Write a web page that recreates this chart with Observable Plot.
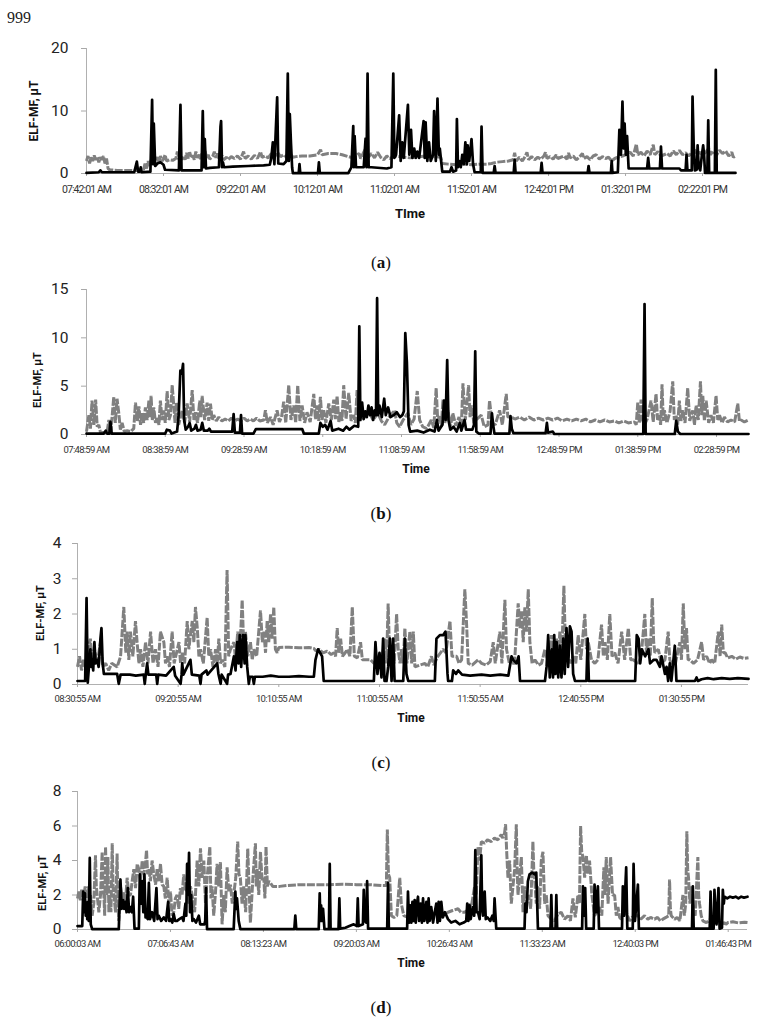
<!DOCTYPE html>
<html><head><meta charset="utf-8">
<script src="https://cdn.jsdelivr.net/npm/d3@7"></script>
<script src="https://cdn.jsdelivr.net/npm/@observablehq/plot@0.6"></script>
<style>
html,body{margin:0;padding:0;background:#fff;overflow:hidden;}
#fig{position:relative;width:762px;height:1020px;background:#fff;overflow:hidden;font-family:Roboto,"Open Sans",sans-serif;}
.pg{position:absolute;left:7px;top:9.5px;font-size:16px;line-height:1;font-family:"Liberation Serif",serif;color:#222;}
.cap{position:absolute;font-size:17px;line-height:1;font-family:"Liberation Serif",serif;color:#111;transform:translate(-50%,-50%);white-space:nowrap;}
.ytitle{position:absolute;font-weight:bold;white-space:nowrap;line-height:1;color:#111;transform:translate(-50%,-50%) rotate(-90deg);}
.xtitle{position:absolute;font-weight:bold;white-space:nowrap;line-height:1;color:#111;transform:translate(-50%,-50%);}
.panel{position:absolute;left:0;}
.pa g[aria-label="x-axis tick label"] text{letter-spacing:-0.9px;}
.pb g[aria-label="x-axis tick label"] text{letter-spacing:-0.7px;}
</style></head>
<body><div id="fig"></div>
<script>
// ---------------- Panel (a) ----------------
const aTimeLabels = ["07:42:01 AM","08:32:01 AM","09:22:01 AM","10:12:01 AM","11:02:01 AM","11:52:01 AM","12:42:01 PM","01:32:01 PM","02:22:01 PM"];
const aEnd = "02:43:25 PM";
const aYTicks = [0,10,20];
const aBlack = [[0,0.1],[8,0.2],[9,0.5],[10,0.2],[31,0.2],[32.7,1.9],[33.5,0.3],[34.7,0.3],[35.2,1],[35.8,0.2],[41.5,0.3],[42.6,11.8],[43.2,1.5],[43.7,8],[44.6,1.2],[46,1.6],[48,1.8],[50,1.4],[51,0.6],[60,0.5],[61,11],[61.7,0.5],[74.7,0.5],[75.5,10],[76.2,1],[76.8,5.5],[77.6,0.8],[80,0.9],[86,1],[87,7.5],[87.4,8.4],[88,1],[88.6,1.8],[89.3,1],[95,1.1],[105,1.2],[115,1.3],[119,1.4],[120,2.5],[121,5],[122,1.5],[123.8,12.2],[124.5,1.6],[128,1.5],[129.8,2],[130.7,16],[131.4,2],[132,9.5],[132.8,4.7],[133.5,1],[134,0.05],[137.8,0.05],[138.3,1.5],[138.8,0.05],[150.3,0.05],[150.9,1.8],[151.5,0.05],[170,0.05],[172,1],[173.2,7.6],[173.6,1],[174.1,6],[175,1],[180,1],[181.2,5.6],[181.8,1],[182.5,16],[183.2,1],[185,1],[195,0.8],[198,1],[199.2,16],[199.9,2.5],[201,3],[203,9.3],[204,2],[205,5],[206,2.5],[208.7,11],[209.6,3],[210.7,7],[211.6,2.5],[212.8,4],[213.8,2.5],[214.8,3.5],[216,2.5],[218.9,8.4],[219.6,2.5],[220.2,8.2],[221.3,2],[222.4,5],[223.5,2],[225,3],[225.7,10],[226.8,2],[227.9,12],[228.8,3],[229.4,4],[231,0.3],[236,0.3],[237,1],[238,0.3],[240,0.5],[240.5,8.7],[241.2,1],[242,2],[243,1],[244,3],[245,1.5],[246,5],[247,1.5],[247.5,4.5],[248.5,2],[250,5.5],[251,1.5],[252,0.2],[256,0.2],[256.5,7.5],[257.2,0.1],[264.4,0.1],[265,1.2],[265.6,0.1],[277.4,0.1],[278,2.2],[278.6,0.1],[294.9,0.1],[295.5,1.7],[296.1,0.1],[325.4,0.1],[326,1.2],[326.6,0.1],[340.5,0.1],[341,2],[341.5,0.1],[345,0.2],[346,7],[347,3],[348,11.5],[348.8,4],[349.4,8],[350.2,3],[351,6],[352,0.8],[360,0.8],[364,0.8],[364.7,2.5],[365.4,0.8],[372.3,0.8],[373,4.3],[373.7,0.8],[385,0.8],[386,0.5],[389,0.5],[389.6,3],[390.2,0.5],[393,0.5],[393.5,12.3],[394.2,5],[395,0.5],[396.2,0.6],[396.8,4.5],[397.5,1],[398.5,0.5],[399.6,3],[400.4,4.5],[401,3],[401.6,0.1],[403.1,0.1],[403.7,8.5],[404.3,0.1],[408,0.1],[408.6,16.6],[409.2,0.1],[421.4,0.1]];
const aGray = [[0,2.0],[1,2.8],[2,1.6],[3,2.6],[4,2.0],[5,2.9],[6,2.2],[7,2.7],[8,1.8],[9,2.6],[10,2.2],[11,2.8],[12,1.6],[13,2.4],[14,0.8],[15,0.6],[20,0.5],[25,0.5],[30,0.5],[35,0.5],[37,0.6],[38,1.6],[39,0.8],[40,2.0],[41,1.2],[42,2.2],[44,1.8],[46,2.6],[47,1.8],[48,2.8],[49,2.0],[50,2.3],[51,3.0],[52,2.0],[54,2.2],[56,2.1],[58,2.4],[59,3.5],[60,2.2],[62,2.3],[63,2.8],[64,2.2],[65,3.3],[66,2.4],[67,3.4],[68,2.5],[69,2.9],[70,2.2],[71,3.5],[72,2.5],[73,3.0],[74,2.3],[75,3.2],[76,2.5],[77,3.6],[78,2.5],[79,3.0],[80,2.3],[82,2.8],[83,3.5],[84,2.5],[85,3.2],[86,2.4],[88,2.9],[89,2.2],[91,2.6],[92,2.2],[94,2.7],[96,2.4],[98,2.8],[100,2.3],[102,3.5],[103,2.4],[105,2.8],[107,2.3],[109,2.9],[111,2.4],[113,3.5],[114,2.6],[116,2.8],[118,2.5],[120,3.2],[122,2.6],[124,3.4],[126,2.7],[128,3.0],[130,2.6],[132,3.2],[134,2.6],[136,2.7],[140,2.8],[145,2.8],[150,3.0],[152,3.8],[153,3.0],[157,3.2],[162,3.2],[166,3.0],[170,2.7],[173,2.5],[175,2.8],[177,3.2],[178,2.4],[180,3.4],[182,4.3],[183,2.6],[185,3.2],[187,2.5],[189,3.4],[191,2.6],[193,2.2],[195,2.8],[197,2.4],[200,2.8],[210,2.5],[220,2.8],[230,2.6],[231,1.6],[235,1.5],[240,1.4],[245,1.5],[250,1.4],[255,1.5],[260,1.5],[263,1.6],[266,1.8],[270,1.9],[274,2.0],[277,2.2],[278,3.3],[279,2.0],[281,2.6],[283,2.0],[285,2.8],[286,3.4],[287,2.2],[289,2.7],[291,2.2],[293,2.6],[295,2.3],[297,2.8],[298,3.4],[299,2.4],[301,2.7],[303,2.3],[305,3.0],[306,2.4],[308,2.6],[310,2.8],[312,2.3],[313,3.3],[314,2.5],[316,2.8],[318,2.2],[320,2.6],[322,3.2],[323,2.4],[325,2.7],[327,2.2],[329,2.8],[331,3.0],[333,2.3],[335,2.7],[337,2.4],[339,2.6],[341,2.0],[343,2.4],[345,2.6],[348,2.8],[350,3.0],[353,3.4],[355,2.8],[357,4.7],[358,3.0],[360,3.4],[362,2.8],[364,3.6],[366,3.0],[368,4.6],[369,3.0],[371,3.5],[373,2.8],[375,3.0],[377,3.2],[379,2.8],[381,3.6],[383,3.0],[385,3.7],[387,3.0],[389,3.3],[391,2.8],[393,3.3],[395,3.8],[396,3.0],[398,3.4],[400,3.0],[402,3.4],[404,4.0],[405,3.0],[407,3.6],[409,2.9],[411,3.7],[413,3.2],[415,3.6],[417,2.8],[419,3.4],[420,2.6],[421.4,2.8]];

// ---------------- Panel (b) ----------------
const bTimeLabels = ["07:48:59 AM","08:38:59 AM","09:28:59 AM","10:18:59 AM","11:08:59 AM","11:58:59 AM","12:48:59 PM","01:38:59 PM","02:28:59 PM"];
const bEnd = "02:49:17 PM";
const bYTicks = [0,5,10,15];
const bBlack = [[0,0.1],[11,0.1],[12.2,0.4],[13,0.1],[14.5,0.1],[15.2,1.3],[16,0.1],[50,0.1],[51,0.5],[53,0.4],[54,0.1],[57.5,0.3],[58.5,2.0],[59.6,6.6],[60.5,6.3],[61.3,7.3],[62,1.5],[63,0.5],[64.5,0.8],[65.5,1.2],[66.5,0.4],[68.5,0.6],[69.5,1.0],[70.5,0.4],[72.5,0.5],[73.5,1.2],[74.5,0.4],[77,0.4],[78,0.6],[79,0.3],[92.5,0.3],[93.4,2.1],[94.2,0.2],[97.4,0.2],[98.1,2.0],[98.8,0.1],[106,0.1],[107.5,0.55],[137,0.55],[138,0.1],[147.5,0.1],[148.5,1.2],[150,0.8],[151.5,1.0],[153,0.5],[155,1.4],[156,0.4],[160,0.6],[163,0.4],[165,0.8],[167,0.5],[170,0.9],[172.5,0.8],[173.2,11.2],[173.9,1.5],[175,3.3],[176,1.6],[177,2.4],[178,1.8],[179,3.0],[180,2.0],[181,2.8],[182,1.5],[183,2.5],[183.8,2.0],[184.5,14.1],[185.2,2.0],[186,3.0],[187.5,1.8],[189,3.7],[190,2.0],[191.5,2.8],[193,1.8],[195,2.0],[197,2.3],[199,1.8],[200.5,2.0],[201.5,2.4],[202.4,10.5],[203.4,7.5],[204.5,1.0],[205.5,0.3],[210,0.4],[214,0.2],[218,0.5],[221,0.3],[222.5,1.5],[223.5,0.4],[226,1.0],[227,3.5],[228,1.5],[229,7.7],[229.8,1.5],[231,0.5],[233,0.8],[235,0.3],[237,1.2],[238,0.4],[240,1.5],[241,0.5],[245,0.5],[246,1.0],[246.8,8.6],[247.5,0.3],[249,0.1],[256.5,0.1],[257.4,2.2],[258.2,1.0],[259,0.1],[268.5,0.1],[269.2,1.9],[270,0.6],[271,0.15],[291.5,0.15],[292.3,1.2],[293,0.2],[296,0.3],[297,0.05],[353.5,0.05],[354.3,13.5],[355,0.05],[373.5,0.05],[374.4,1.4],[375.5,0.3],[377,0.05],[420.3,0.05]];
const bGray = [[0,0.3],[1.5,2.0],[2.5,0.6],[3.5,3.5],[4.7,1.0],[5.8,3.6],[6.8,0.8],[7.8,1.0],[8.9,0.2],[11,0.2],[13.1,0.3],[14.2,1.5],[15.5,0.4],[17.3,3.9],[18.3,1.2],[19.4,3.7],[20.5,2.2],[21.5,0.5],[22.6,1.2],[24,0.3],[25.8,0.4],[28,0.3],[30,0.6],[31.1,3.3],[32.3,1.4],[33.3,2.9],[34.3,1.0],[35.3,2.2],[36.3,1.2],[37.4,2.8],[38.5,1.5],[39.6,3.5],[40.3,1.8],[41,4.0],[41.8,1.5],[42.7,2.8],[43.8,1.2],[44.9,1.8],[46,1.0],[46.9,3.5],[48,1.5],[49.1,2.5],[50,1.2],[51.2,4.5],[52.3,1.5],[53.3,2.0],[54.4,5.1],[55.4,3.0],[56.2,1.2],[57.1,3.3],[58.5,1.0],[60.7,2.5],[62.3,1.2],[63.9,3.2],[65.5,1.3],[67.1,4.6],[68.2,1.5],[69.2,2.3],[70.5,1.2],[71.9,3.5],[72.6,1.8],[73.4,4.0],[75,1.5],[76.6,3.3],[77.6,1.4],[78.7,3.2],[79.8,1.5],[80.8,2.0],[82.4,1.4],[84,1.8],[86,1.4],[88,1.6],[90,1.4],[92,1.7],[94,1.4],[96,1.6],[98,1.4],[100,1.7],[102,1.4],[104,1.6],[106,1.4],[108,1.7],[110,1.4],[112.6,1.5],[113.6,2.5],[114.8,1.2],[116.8,1.8],[118.5,1.0],[121,2.5],[122.5,1.3],[123.8,1.8],[125.2,3.4],[126.5,1.2],[128.4,5.1],[129.8,1.5],[131.6,3.0],[132.8,1.2],[134.1,5.1],[135.5,1.4],[136.9,3.0],[138.5,1.2],[140,2.3],[142,1.3],[144.3,4.2],[145.3,1.6],[146.4,3.0],[147.4,1.4],[148.5,3.9],[149.5,1.5],[150.6,2.5],[152,1.2],[153.8,3.2],[155.4,1.5],[157,3.6],[158,1.6],[159.1,4.0],[160.2,1.3],[161.2,2.3],[162.2,1.4],[163.3,5.1],[164.8,1.6],[166.5,4.3],[168,1.4],[169.6,2.0],[170.7,1.2],[171.8,4.6],[172.8,1.5],[173.9,2.5],[176,1.6],[179,2.4],[182,1.5],[185,2.2],[187.2,1.4],[189.3,1.0],[192,1.8],[195.6,2.5],[197,1.2],[198.8,0.8],[201,1.5],[204,2.2],[206,1.0],[208,1.6],[210,4.5],[211.5,1.5],[213.5,0.8],[216,0.6],[218.9,1.5],[220.5,0.7],[222,4.8],[223,1.4],[224.2,2.0],[225.3,0.8],[226.3,3.6],[227.5,1.2],[229.5,2.5],[231,0.8],[232.6,2.2],[234.5,0.9],[236.5,1.8],[238,1.0],[239,5.3],[240.5,1.5],[242.6,5.1],[243.5,1.8],[244.3,3.0],[246,1.2],[248,1.6],[250.6,2.0],[252.5,0.8],[254.9,1.0],[255.9,3.5],[257.5,1.2],[259.5,1.0],[262.3,2.5],[264,1.0],[266.5,4.2],[267.5,1.8],[269.7,1.8],[272,1.6],[275,1.8],[278,1.5],[281,1.8],[284,1.5],[287,1.7],[290,1.5],[293,1.7],[296,1.5],[299,1.7],[302,1.4],[305,1.6],[308,1.4],[311,1.6],[314,1.4],[317,1.6],[320,1.3],[323,1.5],[326,1.3],[329,1.5],[332,1.3],[335.2,1.4],[338,1.2],[341,1.4],[344,1.2],[347.9,1.3],[349,1.0],[350,3.3],[351,1.2],[352.1,3.6],[353,1.5],[354.2,1.0],[356,1.6],[358.4,3.5],[359.8,1.3],[361.6,4.2],[362.6,1.5],[363.7,2.0],[364.5,1.0],[365.4,5.2],[366.2,1.4],[366.9,2.5],[368.5,1.2],[370.5,2.4],[372.2,5.5],[373.2,1.5],[374.3,2.0],[375.3,1.0],[376.4,3.5],[377.4,1.4],[378.5,2.5],[380,1.2],[381.7,4.8],[383,1.4],[384.9,2.5],[386,1.0],[387,3.0],[388.4,1.5],[389.8,5.5],[390.6,2.0],[391.3,4.0],[392.3,1.4],[393.4,3.5],[395,1.2],[396.5,2.0],[398,1.2],[399.7,4.0],[400.8,1.5],[401.9,2.0],[403.5,1.2],[405,1.8],[407,1.3],[409.2,1.5],[411.5,1.3],[413.5,3.2],[414.5,1.4],[415.6,1.5],[417.7,1.3],[420.3,1.5]];

// ---------------- Panel (c) ----------------
const cTimeLabels = ["08:30:55 AM","09:20:55 AM","10:10:55 AM","11:00:55 AM","11:50:55 AM","12:40:55 PM","01:30:55 PM"];
const cEnd = "02:04:13 PM";
const cYTicks = [0,1,2,3,4];
const cBlack = [[0,0.1],[3.8,0.1],[4.5,2.45],[5.1,0.05],[5.8,0.6],[6.4,1.0],[6.9,0.5],[7.3,0.7],[7.8,0.4],[8.4,1.2],[9,0.6],[9.8,0.7],[10.5,0.5],[11.4,1.3],[11.9,1.6],[12.5,0.6],[13.1,0.3],[16,0.3],[19.7,0.3],[20.5,0.02],[21.4,0.28],[26,0.28],[29,0.25],[32.9,0.28],[33.4,0.02],[33.9,0.28],[34.6,0.6],[35.2,0.28],[39.1,0.28],[39.6,0.02],[40.1,0.28],[44,0.25],[47.8,0.5],[48.5,0.25],[51.2,0.02],[51.7,0.28],[52,0.6],[52.6,0.28],[56.1,0.7],[56.8,0.28],[60.5,0.25],[61.1,0.02],[61.6,0.28],[64,0.4],[64.6,0.28],[69.4,0.6],[70,0.3],[71.1,0.02],[71.6,0.28],[74.3,0.02],[74.8,0.28],[76,0.3],[77.7,0.8],[78.5,0.4],[79.3,1.2],[80,0.6],[80.6,1.4],[81.3,0.5],[82.2,1.4],[83,0.6],[83.4,1.4],[84.3,0.5],[85.1,0.02],[85.6,0.22],[87,0.22],[87.6,0.02],[88.1,0.22],[92,0.22],[96,0.25],[100,0.22],[105,0.22],[110,0.24],[115,0.22],[117.4,0.22],[118.2,0.7],[119.5,1.0],[120.5,0.9],[121.5,0.8],[122.3,0.1],[135,0.1],[147.2,0.1],[148,1.2],[149,0.3],[150,0.9],[151,0.2],[151.8,1.3],[152.5,0.1],[153.5,0.1],[154.3,0.5],[155.2,1.3],[156,0.1],[156.8,1.3],[157.5,0.1],[161.8,0.1],[162.6,1.3],[163.4,0.3],[164.3,0.1],[177.5,0.1],[178.3,1.3],[180,1.4],[181.6,1.4],[182.8,1.5],[183.8,0.3],[184.1,0.1],[186,0.1],[186.6,0.4],[188,0.3],[189.1,0.4],[191,0.28],[195,0.25],[200.7,0.28],[205,0.25],[210,0.28],[214,0.25],[215.6,0.8],[216.4,0.7],[218.1,0.6],[219.1,0.8],[219.8,0.1],[232.2,0.1],[233,0.5],[233.8,1.4],[234.6,0.2],[235.5,1.0],[236.2,0.2],[236.8,1.4],[237.4,0.3],[238,1.2],[238.8,0.2],[239.6,1.1],[240.4,0.2],[241.3,1.3],[242,0.3],[242.9,1.6],[243.7,0.5],[244.6,1.65],[245.4,1.5],[246.2,0.3],[247.1,0.1],[252.8,0.1],[253.4,1.3],[254,0.1],[277,0.1],[277.8,1.4],[278.7,1.3],[279.5,0.6],[280.3,1.0],[282,0.8],[283.6,1.0],[284.4,0.6],[286.2,0.7],[287.6,0.7],[289.3,0.5],[290.1,0.8],[291.8,0.3],[292.6,0.5],[293.4,0.1],[294.2,0.6],[295,0.1],[296.7,1.1],[297.5,0.1],[306.7,0.1],[307.5,0.2],[308.2,0.1],[310,0.15],[313,0.18],[316,0.15],[320,0.18],[324,0.16],[328,0.18],[333.3,0.16]];
const cGray = [[0,0.5],[1,0.8],[2,0.4],[3,0.7],[4,0.5],[5,0.9],[6.4,1.3],[7.3,0.6],[8.4,1.0],[9.8,0.6],[11.4,1.2],[12.5,0.5],[14,0.6],[15.5,0.4],[17,0.6],[19.7,0.5],[21.4,0.8],[23,2.2],[24,0.9],[24.7,1.5],[25.5,0.7],[26.3,1.5],[27.5,0.8],[28.8,1.8],[29.6,1.2],[30.5,0.6],[31.3,1.0],[32.5,0.5],[33.8,1.2],[35,0.6],[36.3,1.5],[37.5,0.6],[38.7,1.0],[40,0.5],[41.2,1.5],[42.9,1.2],[43.7,0.6],[44.5,0.8],[45.7,0.5],[47,1.5],[48,0.6],[49.2,0.9],[50.4,1.2],[51.2,0.6],[52,0.9],[53.2,0.6],[54.5,1.8],[55.3,1.0],[56.1,1.4],[57,1.8],[57.8,1.2],[58.6,2.2],[59.5,1.6],[60.3,0.8],[61.1,1.0],[62.5,0.6],[64.4,1.9],[65.2,0.8],[66.1,1.0],[67.3,0.5],[68.6,1.0],[69.4,0.6],[70.2,1.3],[71.1,0.6],[71.9,0.7],[73.2,0.5],[74.3,3.25],[75.1,0.8],[76,1.0],[77.7,1.2],[78.5,0.7],[79.6,1.5],[80.6,0.9],[81.8,2.4],[82.6,1.0],[83.4,1.5],[84.6,0.8],[85.9,1.2],[86.8,0.7],[87.6,1.0],[89,0.8],[90.9,2.1],[91.8,1.2],[92.6,1.5],[93.4,0.9],[94.2,1.8],[95,1.2],[95.9,2.0],[96.7,1.3],[97.5,2.2],[98.3,1.0],[99.2,0.9],[100,1.05],[105,1.06],[110,1.04],[115,1.05],[117.4,1.02],[118.5,0.95],[120,1.0],[122,0.9],[124,0.95],[126,0.85],[127.4,0.9],[128.2,0.8],[129,1.6],[129.8,0.9],[130.7,1.3],[131.6,0.8],[133,0.9],[134,1.0],[135.3,0.8],[136.5,2.2],[137.5,0.8],[139,0.75],[140.6,1.2],[141.5,0.7],[143.5,0.7],[145.6,0.7],[147.2,0.6],[148.9,0.6],[150,0.9],[151,0.6],[152.7,1.3],[153.5,0.6],[154.3,2.3],[155,0.9],[156,1.0],[157.3,0.6],[158.5,2.0],[159.3,1.0],[160.2,0.6],[161,1.0],[161.8,0.6],[162.6,1.6],[163.6,0.6],[165.1,1.5],[166,0.6],[166.8,1.5],[167.6,0.5],[170,0.55],[172.6,0.6],[174,0.5],[175.8,0.8],[177,0.55],[179,0.8],[181.6,1.0],[183,0.9],[185,1.8],[186,0.8],[188.3,0.8],[189.5,0.6],[190.8,0.7],[192.4,2.7],[193.2,1.8],[194.1,0.6],[196,0.55],[199,0.7],[200.7,0.6],[203,0.55],[205,0.65],[206.5,1.2],[207.5,0.6],[209.8,1.5],[210.8,0.6],[212.3,2.4],[213.1,1.0],[214.5,0.6],[215.6,0.7],[217,0.55],[218.9,2.3],[219.8,1.6],[220.6,2.1],[221.4,1.2],[222.2,2.2],[223,1.5],[223.9,2.7],[224.7,1.2],[225.8,0.6],[227.2,0.7],[229,0.55],[230.5,0.6],[232.2,1.0],[233.8,0.6],[235.5,1.4],[236.5,0.7],[238,1.3],[238.8,0.8],[239.6,1.5],[240.6,0.9],[241.6,2.8],[242.3,1.2],[242.9,1.5],[243.7,0.8],[245,0.6],[246.2,0.8],[247.5,0.6],[248.7,1.4],[250,0.7],[252,2.0],[252.8,1.0],[253.7,1.2],[255.3,0.7],[257,0.6],[258.5,0.7],[260.3,1.7],[261.2,0.8],[262,1.2],[263.2,0.7],[264.4,2.0],[265.5,0.8],[266.9,0.9],[268.5,0.6],[270.3,1.5],[271.8,0.7],[273.6,1.6],[274.8,0.7],[276,0.7],[278.5,0.6],[280,0.8],[281.8,2.0],[282.6,0.9],[283.5,1.3],[284.5,0.8],[285.5,2.45],[286.2,1.2],[286.8,0.9],[288.5,1.0],[290,0.6],[291.8,0.7],[293.4,1.5],[294.2,0.7],[295.1,0.6],[297,0.6],[299.2,1.2],[300,0.7],[300.9,2.3],[301.7,1.0],[302.5,1.6],[303.3,0.7],[304.2,0.7],[306,0.6],[308,0.7],[310,1.2],[311,0.7],[312.5,0.8],[314,0.6],[315,0.7],[316.5,0.6],[318.3,1.5],[319.2,0.8],[320,1.7],[320.8,0.9],[321.7,0.9],[323,0.75],[325,0.8],[327,0.72],[329,0.78],[331,0.74],[333.3,0.76]];

// ---------------- Panel (d) ----------------
const dTimeLabels = ["06:00:03 AM","07:06:43 AM","08:13:23 AM","09:20:03 AM","10:26:43 AM","11:33:23 AM","12:40:03 PM","01:46:43 PM"];
const dEnd = "02:00:33 PM";
const dYTicks = [0,2,4,6,8];
const dBlack = [[0,0.2],[3.4,0.2],[4.1,2.2],[4.7,1.0],[5.3,2.1],[5.9,0.8],[6.5,1.5],[7,0.6],[7.4,1.6],[8.1,0.5],[8.8,4.15],[9.5,0.3],[10.5,0.02],[29.6,0.02],[30.8,2.9],[31.7,1.2],[32.7,1.7],[33.5,1.2],[34.4,1.6],[35.2,1.0],[36.1,2.4],[37,1.0],[38,1.3],[39,1.0],[39.9,1.9],[40.9,0.05],[44,0.05],[44.7,3.2],[45.5,1.5],[46.4,2.8],[47.2,1.0],[48,3.2],[48.8,0.7],[49.5,1.0],[50.3,0.6],[51.2,2.7],[52,0.6],[53.5,1.0],[55,0.5],[56.6,2.4],[57.4,0.6],[58.3,0.8],[60,0.5],[61.9,0.7],[63.5,0.5],[65,1.6],[65.8,0.5],[66.7,0.6],[68,0.4],[69,0.9],[70,0.5],[71.4,0.5],[73,0.6],[75,0.7],[76,0.5],[77.4,1.5],[78,0.8],[78.6,3.8],[79.3,2.0],[80,4.45],[80.7,1.0],[81.5,2.0],[82.4,0.5],[83.4,0.6],[85,0.4],[87,0.8],[88,0.3],[89.4,0.3],[91,0.3],[91.6,0.5],[92.2,2.4],[92.9,0.02],[112,0.02],[113.2,2.2],[113.8,1.2],[114.4,1.8],[115.6,0.5],[116.8,0.02],[155.5,0.02],[156.2,0.8],[156.9,0.02],[173,0.02],[173.7,2.1],[174.2,0.5],[174.7,1.4],[175.4,0.5],[176.1,1.2],[177.1,0.02],[180.3,0.02],[180.9,3.8],[181.5,0.02],[187.2,0.02],[187.8,1.8],[188.4,0.05],[192.1,0.1],[195,0.2],[198.1,0.3],[200.4,0.2],[201,1.8],[201.6,0.2],[204.7,0.3],[205.3,2.3],[206,0.5],[207.1,0.4],[207.7,2.8],[208.4,0.05],[222.1,0.05],[222.7,2.7],[223.3,0.05],[236.4,0.05],[237,2.2],[237.8,0.4],[238.6,1.4],[239.4,0.4],[240.2,1.6],[241,0.5],[241.8,1.7],[242.6,0.4],[243.4,1.5],[244.2,1.9],[245,0.5],[246.1,1.5],[247,0.4],[247.8,1.8],[248.8,0.5],[250.2,1.6],[251,0.4],[251.8,1.8],[252.6,0.5],[253.7,1.3],[255,0.4],[256.2,1.0],[257.3,1.5],[258.2,0.4],[259,1.6],[259.9,0.5],[260.9,1.6],[262,0.7],[263.5,1.0],[265.7,0.6],[268,0.4],[271,0.5],[274,0.3],[277,0.4],[278.8,0.5],[279.5,1.5],[280.3,0.5],[281.2,1.4],[282,0.6],[282.8,1.0],[283.6,1.3],[284.5,0.8],[285.3,4.6],[286.2,1.0],[287.2,1.0],[288.4,0.6],[289.6,4.3],[290.2,1.2],[290.8,0.8],[292,2.2],[292.8,0.6],[294,0.7],[296,0.5],[297.5,0.8],[298.5,0.5],[299.1,1.8],[300.3,0.05],[320.6,0.05],[321.1,1.5],[322,1.0],[323,2.8],[324.2,3.2],[326,3.3],[328,3.2],[329,3.3],[330.2,0.05],[339.2,0.05],[339.8,2.0],[340.4,0.05],[342.8,0.05],[343.4,2.0],[344,0.05],[361.9,0.05],[362.5,2.5],[363.3,0.8],[364.1,2.4],[364.8,0.05],[370.2,0.05],[370.8,2.6],[372,1.0],[373.2,2.5],[374,0.05],[390.5,0.05],[391.1,2.5],[392,0.8],[393.5,3.6],[394.3,0.05],[398.2,0.05],[398.8,3.8],[399.8,0.5],[401.9,2.6],[402.6,0.05],[440.7,0.05],[441.3,2.5],[441.9,0.05],[453.4,0.05],[454,2.2],[454.7,0.05],[456.2,0.05],[456.8,2.3],[457.5,1.0],[458.3,0.3],[459.7,2.4],[460.5,0.05],[462.2,0.1],[462.8,2.3],[463.5,1.5],[464,1.9],[466,1.8],[468,1.9],[470,1.85],[472,1.9],[474,1.8],[476,1.9],[478,1.85],[480.5,1.9]];
const dGray = [[0,1.8],[1,2.2],[2,1.7],[3,2.3],[4.5,1.9],[5.5,2.5],[6.5,1.8],[7.9,2.5],[8.6,1.2],[9.3,2.0],[10.5,0.8],[11.7,1.5],[12.9,4.3],[13.5,2.5],[14.1,2.0],[15.3,1.0],[16.5,2.0],[17.7,4.5],[18.3,2.2],[18.9,2.0],[19.5,0.8],[20.1,4.8],[21,2.0],[21.8,4.2],[22.5,1.0],[23.2,2.0],[24,1.0],[24.9,5.0],[25.5,2.5],[26.1,2.0],[27.3,1.0],[28.4,4.4],[29,1.5],[29.6,0.5],[30.8,2.5],[32,1.8],[33.2,2.2],[34.4,1.6],[35.6,3.0],[36.8,2.0],[38,2.0],[39.2,2.8],[40.4,3.5],[41.6,2.4],[42.8,3.8],[44,3.5],[45.2,2.8],[46.4,4.0],[47.5,3.2],[48.5,3.6],[49.5,4.6],[50.3,3.2],[51.2,3.5],[52.3,2.8],[53.5,4.0],[54.7,3.2],[56,2.6],[57.1,3.5],[58.3,2.8],[59.5,3.8],[60.7,2.6],[61.9,2.5],[63,1.8],[64.3,3.0],[65.5,1.5],[66.7,2.2],[67.8,0.8],[69,1.0],[70.2,1.8],[71.4,2.0],[72.6,1.2],[73.8,2.4],[75,2.0],[76.2,3.2],[77.4,2.2],[78.6,2.3],[79.8,1.5],[81,2.5],[82.2,2.0],[84,1.0],[85.8,4.0],[87,2.5],[88.2,4.7],[89.4,3.0],[90.6,4.0],[91.8,1.5],[93,3.0],[94.9,4.8],[95.7,1.8],[96.5,2.5],[97.7,0.8],[99,2.2],[100.1,3.8],[101.3,2.5],[102.5,3.9],[103.7,0.3],[104.9,2.0],[106,1.0],[107.3,3.6],[108.5,2.2],[109.7,2.6],[111,1.5],[112,2.0],[113.5,3.0],[114.9,5.1],[115.8,3.2],[116.8,3.0],[118,1.5],[119.2,2.5],[120.6,1.0],[122.1,4.7],[123,2.5],[124,0.4],[125.8,3.0],[127.6,5.0],[128.2,2.5],[128.8,3.5],[130,2.0],[131.2,4.5],[132.4,2.8],[133.6,3.0],[134.4,1.8],[135.2,4.8],[136.2,2.5],[137.2,2.8],[138.4,2.7],[140,2.5],[145,2.5],[150,2.55],[160,2.6],[170,2.6],[180,2.6],[190,2.62],[200,2.6],[210,2.6],[218,2.55],[221.5,2.55],[222.2,5.8],[223,3.2],[223.9,3.0],[225.1,0.8],[227,0.7],[229,0.8],[231.1,3.0],[232.2,1.5],[234,0.8],[237,0.7],[241.8,0.9],[245,0.8],[250,1.0],[253.7,0.9],[258,1.0],[261,0.8],[265.7,1.0],[269,1.1],[272.9,1.2],[275,1.0],[277.6,1.0],[279.5,1.1],[281.2,1.5],[282.4,1.3],[284.8,2.5],[286,2.0],[287.2,4.8],[288.4,4.0],[289.6,5.1],[292,5.0],[294,5.2],[296.8,5.1],[299,5.3],[301.5,5.2],[303.9,5.5],[305,5.3],[306.3,5.6],[307,6.1],[307.8,4.5],[308.7,3.0],[309.9,4.0],[311.1,1.5],[312.3,2.5],[313.5,3.5],[314.7,6.1],[315.3,3.5],[315.9,2.0],[317,3.0],[318.3,4.2],[319.5,1.0],[320.6,2.5],[321.8,1.5],[323.5,2.0],[325,1.2],[326.6,5.1],[327.2,3.5],[327.8,3.0],[329,1.5],[330.2,2.5],[331.4,1.2],[332.6,4.0],[333.8,4.5],[335,1.5],[336.2,2.0],[337.4,0.8],[339.8,0.6],[342.2,0.5],[344.5,0.9],[346.9,1.0],[349.3,0.6],[351.7,0.8],[353.5,0.5],[355.3,1.8],[357,0.7],[358.9,2.0],[360,1.5],[360.8,6.0],[361.6,4.5],[362.5,4.2],[363.7,3.0],[364.9,4.3],[366,3.2],[367.2,4.0],[368.9,2.0],[370.8,0.8],[372.6,1.0],[374.4,1.3],[376,0.8],[377.5,3.6],[378.3,2.0],[379.2,4.2],[380.5,1.5],[382.3,4.2],[383.7,2.0],[385.2,2.0],[386.4,0.8],[387.6,1.3],[388.8,0.7],[390,0.6],[391.8,0.9],[393.5,1.0],[395.9,0.5],[397.7,0.7],[399.5,0.8],[401.9,0.8],[404,0.6],[406.7,0.8],[409,0.6],[411,0.7],[413.8,0.6],[416,0.7],[418,0.5],[419.8,0.6],[422,0.7],[424,0.8],[424.6,2.9],[425.2,1.2],[425.8,0.8],[428.2,0.6],[430,0.7],[432,0.5],[434.2,2.0],[435.2,0.8],[436.2,1.5],[437,5.7],[437.6,3.5],[438.2,3.0],[439.2,1.5],[440.1,2.5],[441.3,1.2],[443,0.8],[444.9,4.2],[445.5,2.0],[446.1,1.5],[447.3,0.8],[448.5,0.5],[451,0.4],[454,0.6],[457,0.3],[460,0.5],[462,0.3],[464,0.4],[465,0.3],[466.4,0.4],[470,0.45],[474,0.38],[478.4,0.42],[480.5,0.4]];

const yTitle = "ELF-MF, μT";
const xTitles = ["TIme","Time","Time","Time"];
const captions = ["a","b","c","d"];
const pageNumber = "999";

// ---------------- helpers & layout ----------------
function toMin(s){
  const [hms, ap] = s.split(" ");
  let [h,m,sec] = hms.split(":").map(Number);
  if (ap === "PM" && h !== 12) h += 12;
  if (ap === "AM" && h === 12) h = 0;
  return h*60 + m + sec/60;
}

const panels = [
  {labels:aTimeLabels, end:aEnd, yTicks:aYTicks, black:aBlack, gray:aGray},
  {labels:bTimeLabels, end:bEnd, yTicks:bYTicks, black:bBlack, gray:bGray},
  {labels:cTimeLabels, end:cEnd, yTicks:cYTicks, black:cBlack, gray:cGray},
  {labels:dTimeLabels, end:dEnd, yTicks:dYTicks, black:dBlack, gray:dGray}
];
const layout = [
  {top:30,  height:180, mt:18, mb:37, ml:86, mr:27, yPad:13, yFont:15.5, xFont:10.5, xPad:9,   cls:"pa", yt:[34,111,12],   xt:[410,212.5,13], cap:[381,262]},
  {top:270, height:200, mt:19, mb:36, ml:86, mr:14, yPad:13, yFont:15.5, xFont:9.5,  xPad:8.5, cls:"pb", yt:[37,380,11],   xt:[416,468.5,12], cap:[381,513]},
  {top:520, height:200, mt:23, mb:36, ml:77, mr:14, yPad:11, yFont:15.5, xFont:9.5,  xPad:7.5, cls:"pb", yt:[40,613,11],   xt:[411,718,12],   cap:[381,762]},
  {top:770, height:195, mt:21, mb:36, ml:77, mr:15, yPad:11, yFont:15.5, xFont:9.5,  xPad:7.5, cls:"pb", yt:[41.5,883,11], xt:[411,962.5,12], cap:[381,1007]}
];

const fig = document.getElementById("fig");
const pg = document.createElement("div");
pg.className = "pg"; pg.textContent = pageNumber; fig.appendChild(pg);

panels.forEach((p, i) => {
  const L = layout[i];
  const t0 = toMin(p.labels[0]);
  const tickMins = p.labels.map(l => toMin(l) - t0);
  const labelOf = new Map(tickMins.map((t, k) => [t, p.labels[k]]));
  const xEnd = toMin(p.end) - t0;
  const yMax = p.yTicks[p.yTicks.length - 1];

  const svg = Plot.plot({
    width: 762, height: L.height,
    marginLeft: L.ml, marginRight: L.mr, marginTop: L.mt, marginBottom: L.mb,
    className: L.cls,
    style: {fontFamily: "Roboto, 'Open Sans', sans-serif", background: "transparent", overflow: "visible"},
    x: {type: "linear", domain: [0, xEnd], axis: null},
    y: {type: "linear", domain: [0, yMax], axis: null},
    marks: [
      Plot.ruleY([0], {stroke: "#b0b0b0", strokeWidth: 1}),
      Plot.ruleX([0], {stroke: "#b0b0b0", strokeWidth: 1}),
      Plot.axisX(tickMins, {tickFormat: d => labelOf.get(d), tickSize: 3, tickPadding: L.xPad, fontSize: L.xFont, stroke: "#a8a8a8", fill: "#333", label: null}),
      Plot.axisY(p.yTicks, {tickSize: 5, tickPadding: L.yPad, fontSize: L.yFont, stroke: "#a8a8a8", fill: "#222", label: null}),
      Plot.line(p.gray, {x: d => d[0], y: d => d[1], stroke: "#808080", strokeWidth: 3, strokeDasharray: "8,1.5", strokeLinecap: "butt", strokeLinejoin: "miter"}),
      Plot.line(p.black, {x: d => d[0], y: d => d[1], stroke: "#000", strokeWidth: 2.7})
    ]
  });
  svg.classList.add("panel");
  svg.style.position = "absolute";
  svg.style.top = L.top + "px";
  svg.style.left = "0px";
  fig.appendChild(svg);

  const yt = document.createElement("div");
  yt.className = "ytitle"; yt.textContent = yTitle;
  yt.style.left = L.yt[0] + "px"; yt.style.top = L.yt[1] + "px"; yt.style.fontSize = L.yt[2] + "px";
  fig.appendChild(yt);

  const xt = document.createElement("div");
  xt.className = "xtitle"; xt.textContent = xTitles[i];
  xt.style.left = L.xt[0] + "px"; xt.style.top = L.xt[1] + "px"; xt.style.fontSize = L.xt[2] + "px";
  fig.appendChild(xt);

  const cap = document.createElement("div");
  cap.className = "cap";
  cap.append("(");
  const b = document.createElement("b"); b.textContent = captions[i]; cap.append(b);
  cap.append(")");
  cap.style.left = L.cap[0] + "px"; cap.style.top = L.cap[1] + "px";
  fig.appendChild(cap);
});
</script></body></html>
